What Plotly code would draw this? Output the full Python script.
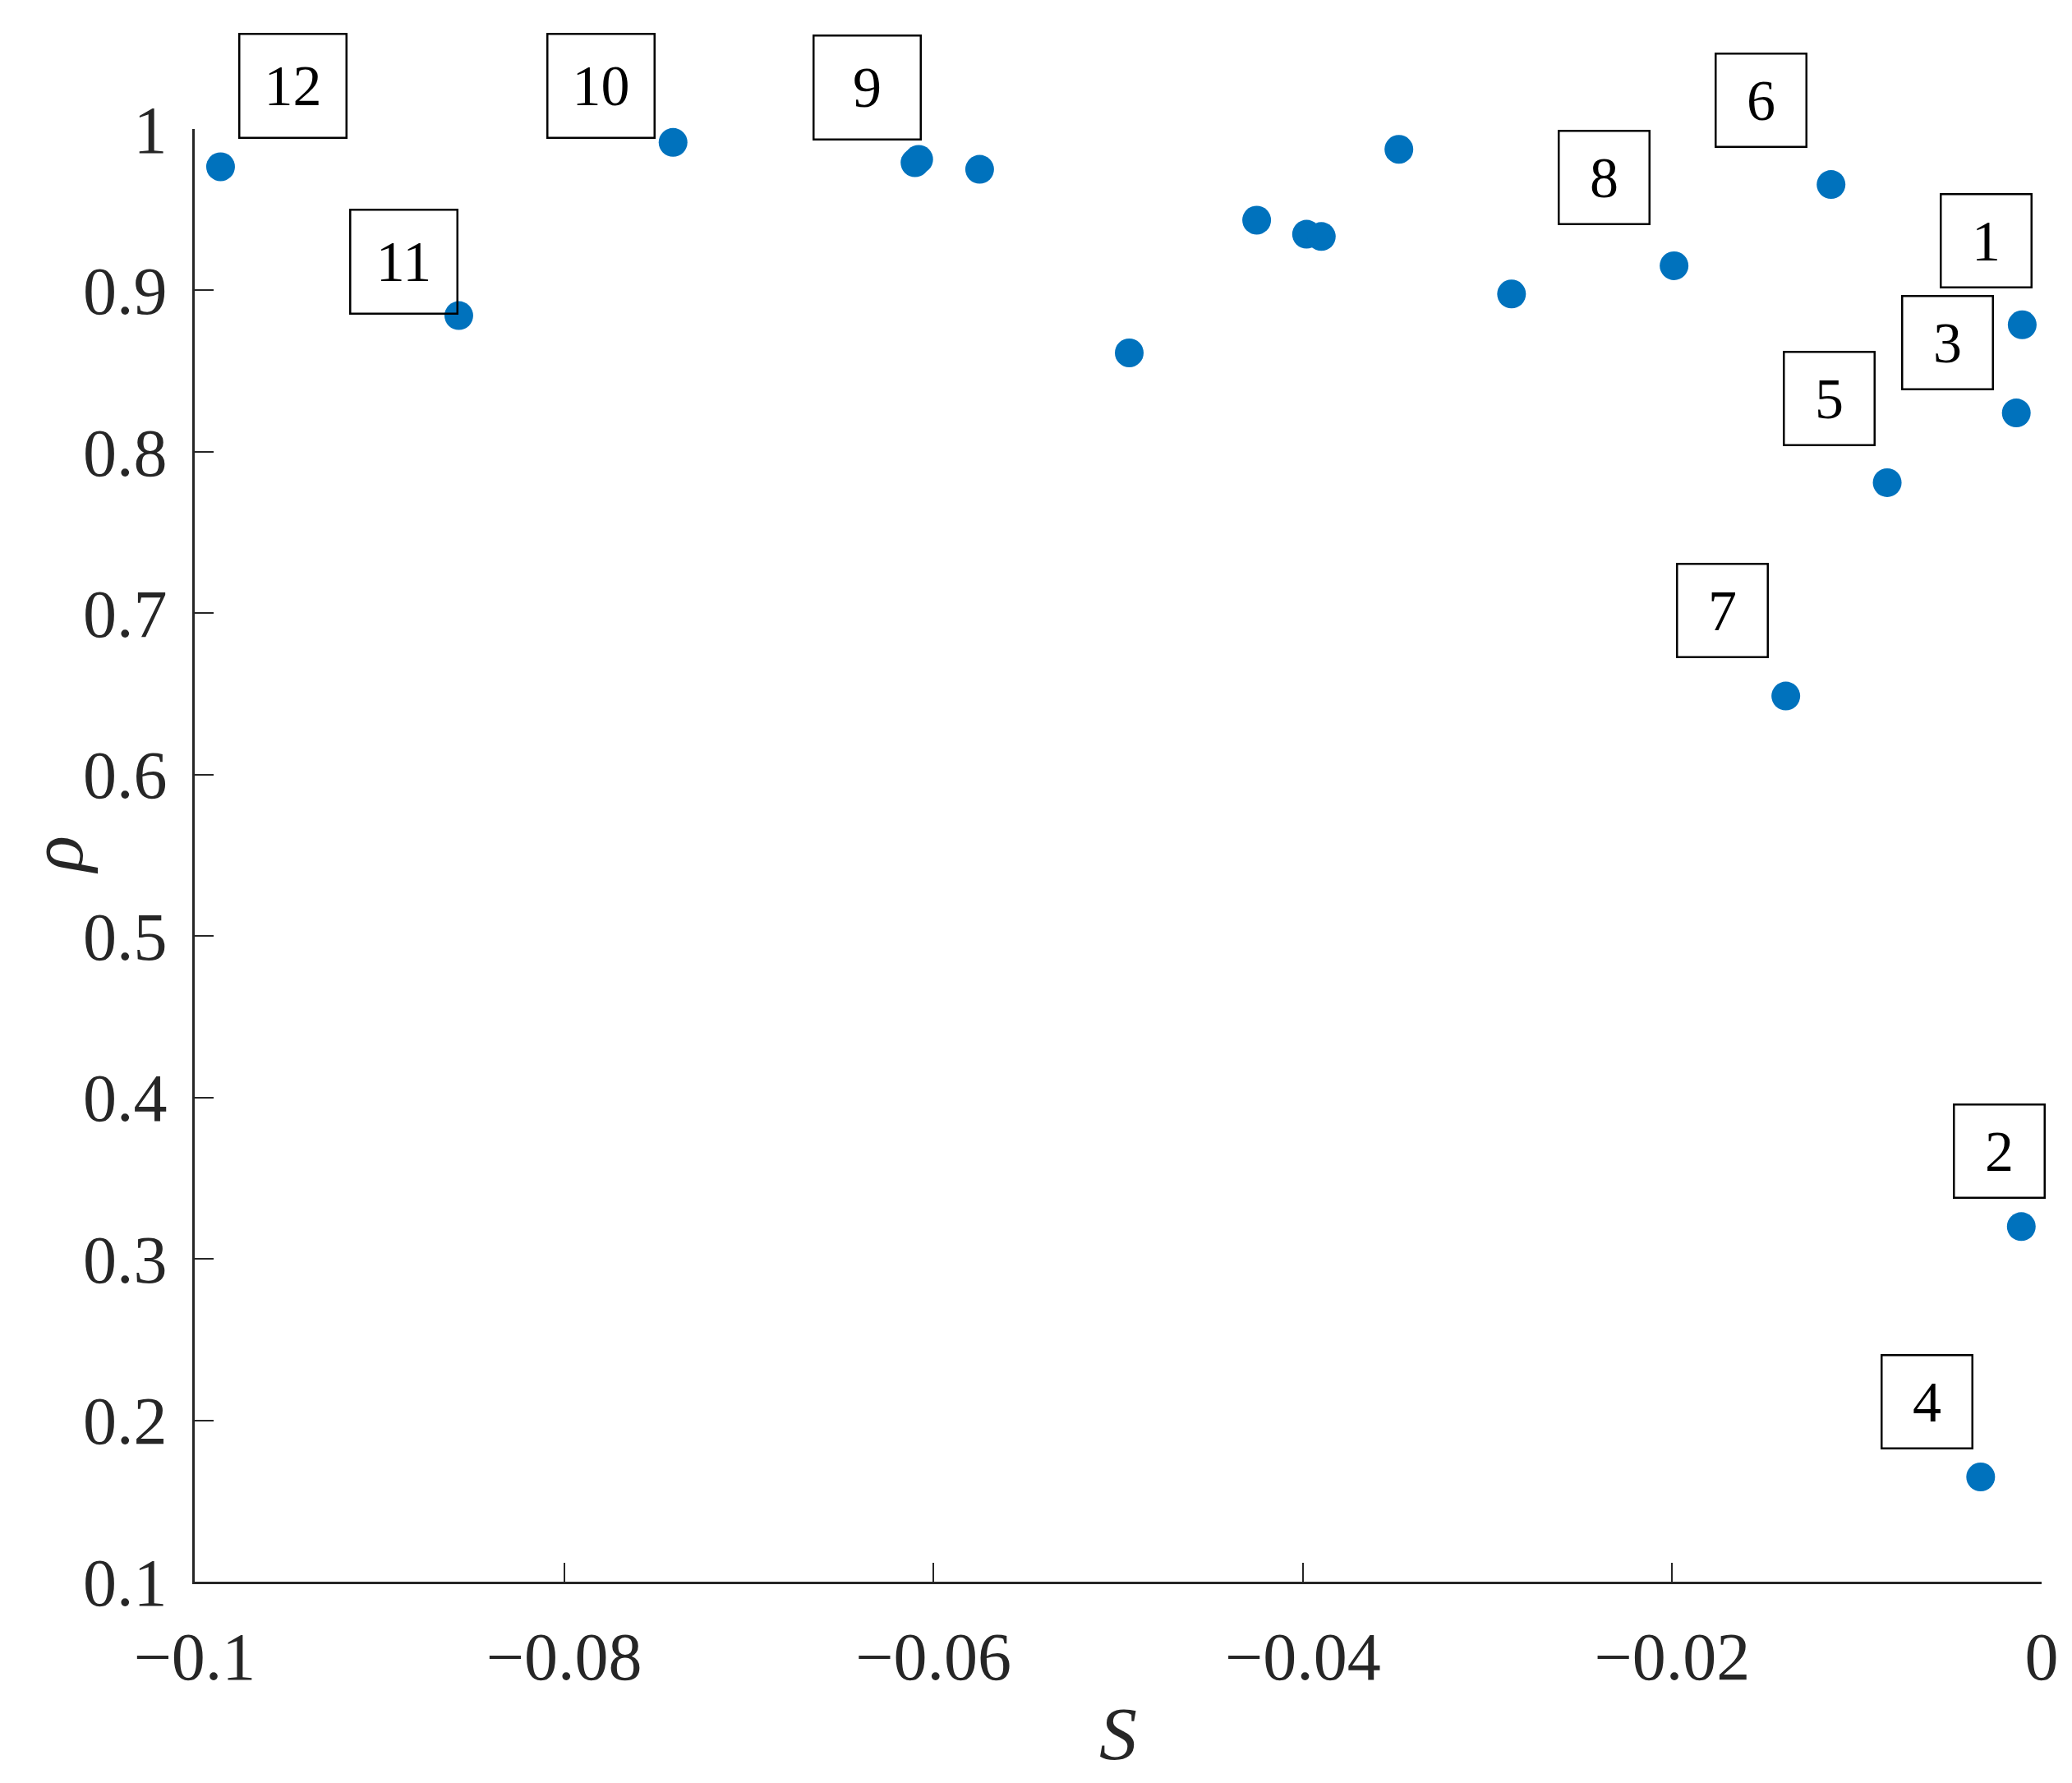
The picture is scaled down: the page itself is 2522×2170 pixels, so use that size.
import plotly.graph_objects as go

# Data
S_vals = [-0.0986, -0.0857, -0.0741, -0.0610, -0.0608, -0.0575, -0.0494, -0.0425,
          -0.0398, -0.0390, -0.0348, -0.0287, -0.0199, -0.0114, -0.00105, -0.00137,
          -0.00836, -0.01385, -0.00110, -0.00330]
rho_vals = [0.9766, 0.8844, 0.9917, 0.9791, 0.9812, 0.9750, 0.8613, 0.9435,
            0.9348, 0.9334, 0.9874, 0.8978, 0.9153, 0.9656, 0.8787, 0.8241,
            0.7809, 0.6487, 0.3200, 0.1649]

# Box labels and their placement (data coordinates of box centres)
box_text = ["12", "10", "9", "11", "6", "8", "1", "3", "5", "7", "2", "4"]
box_x = [-0.0947, -0.0780, -0.0636, -0.0887, -0.0152, -0.0237, -0.0030, -0.0051,
         -0.0115, -0.0173, -0.0023, -0.0062]
box_y = [1.0267, 1.0267, 1.0257, 0.9178, 1.0176, 0.9700, 0.9307, 0.8675,
         0.8330, 0.7015, 0.3666, 0.2114]
big_boxes = {"12", "10", "9", "11"}

x_range = [-0.1, 0]
y_range = [0.1, 1]
x_tickvals = [-0.1, -0.08, -0.06, -0.04, -0.02, 0]
x_ticktext = ["\u22120.1", "\u22120.08", "\u22120.06", "\u22120.04", "\u22120.02", "0"]
y_tickvals = [0.1, 0.2, 0.3, 0.4, 0.5, 0.6, 0.7, 0.8, 0.9, 1.0]
y_ticktext = ["0.1", "0.2", "0.3", "0.4", "0.5", "0.6", "0.7", "0.8", "0.9", "1"]

FONT = "Liberation Serif, Times New Roman, serif"
AX = "#262626"

fig = go.Figure()
fig.add_trace(go.Scatter(
    x=S_vals, y=rho_vals, mode="markers",
    marker=dict(color="#0072BD", size=35, line=dict(width=0)),
    cliponaxis=False, showlegend=False,
))

for t, bx, by in zip(box_text, box_x, box_y):
    w, h = (128, 124) if t in big_boxes else (108, 111)
    # y given in paper units so boxes above the axis top are still drawn
    fig.add_annotation(
        x=bx, y=(by - y_range[0]) / (y_range[1] - y_range[0]), xref="x", yref="paper",
        text=t, showarrow=False,
        xanchor="center", yanchor="middle",
        font=dict(family=FONT, size=70, color="black"),
        bordercolor="black", borderwidth=2.5, borderpad=0,
        bgcolor="rgba(0,0,0,0)", width=w, height=h, align="center", valign="middle",
    )

# axis titles
fig.add_annotation(x=0.5, y=0, xref="paper", yref="paper", text="<i>S</i>",
                   showarrow=False, xanchor="center", yanchor="middle", yshift=-185,
                   font=dict(family=FONT, size=92, color=AX))
fig.add_annotation(x=0, y=0.5, xref="paper", yref="paper", text="<i>ρ</i>",
                   showarrow=False, xanchor="center", yanchor="middle", xshift=-168,
                   textangle=-90, borderpad=0,
                   font=dict(family=FONT, size=92, color=AX))

axis_common = dict(
    showline=True, linecolor=AX, linewidth=3, mirror=False,
    ticks="inside", ticklen=23, tickwidth=2.2, tickcolor=AX,
    showgrid=False, zeroline=False, automargin=False,
    tickfont=dict(family=FONT, size=82, color=AX),
)

fig.update_xaxes(range=x_range, tickvals=x_tickvals, ticktext=x_ticktext,
                 ticklabelstandoff=18, **axis_common)
fig.update_yaxes(range=y_range, tickvals=y_tickvals, ticktext=y_ticktext,
                 ticklabelstandoff=14, **axis_common)

# the page body adds an 8 px offset, so the figure is 8 px smaller
fig.update_layout(
    width=2514, height=2162,
    margin=dict(l=229, r=37, t=149, b=245),
    paper_bgcolor="white", plot_bgcolor="white",
    font=dict(family=FONT, color=AX),
)

fig.write_html("out.html")
